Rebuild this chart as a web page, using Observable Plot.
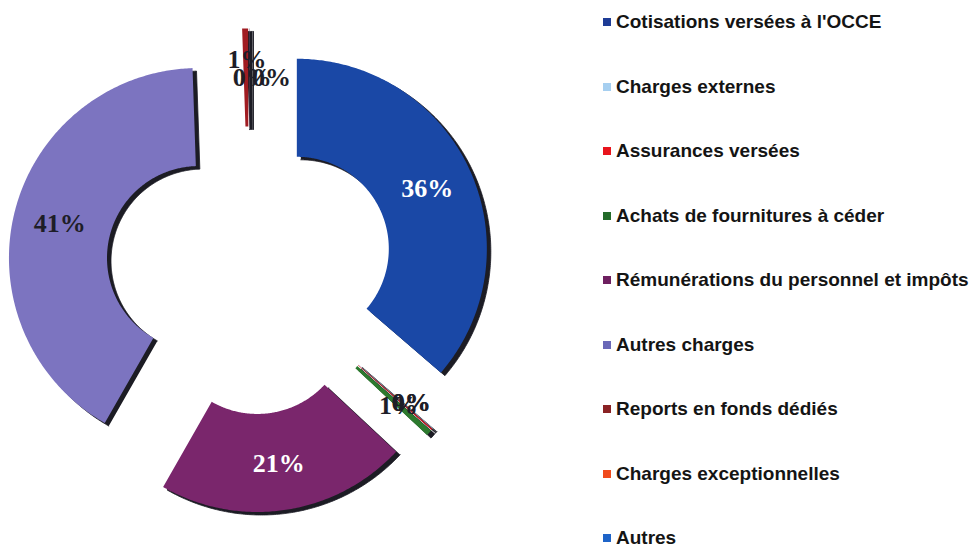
<!DOCTYPE html>
<html><head><meta charset="utf-8">
<script src="https://cdn.jsdelivr.net/npm/d3@7"></script>
<script src="https://cdn.jsdelivr.net/npm/@observablehq/plot@0.6"></script>
<style>
html,body{margin:0;padding:0;background:#fff;overflow:hidden}
#wrap{position:relative;width:976px;height:544px;overflow:hidden}
#legend{position:absolute;left:603px;top:0;font-family:"Liberation Sans",Arial,sans-serif;font-weight:bold;font-size:19px;color:#141414}
.item{position:absolute;left:0;white-space:nowrap;display:flex;align-items:center;height:22px;transform:translateY(-50%)}
.sw{width:8px;height:8px;margin-right:5px;flex:none}
</style></head><body><div id="wrap"><div id="chart"></div><div id="legend"></div></div>
<script>
// ---- data ----
const categories = [
  "Cotisations versées à l'OCCE",
  "Charges externes",
  "Assurances versées",
  "Achats de fournitures à céder",
  "Rémunérations du personnel et impôts",
  "Autres charges",
  "Reports en fonds dédiés",
  "Charges exceptionnelles",
  "Autres"
];
// percentage of total, drawn clockwise from 12 o'clock in this order
const values = [36.3, 0.05, 0.1, 0.5, 21.3, 41.2, 0.5, 0.02, 0.02];

// ---- styles ----
const sliceColors = ["#1a48a6", "#a6cff0", "#d8141c", "#2c7a2e", "#7a266c", "#7c74c0", "#a01c22", "#f04a1c", "#1e64c8"];
const swatchColors = ["#1e3c96", "#a6cff0", "#e8141c", "#236b2a", "#6e2060", "#6a68b8", "#8a2224", "#f04a1c", "#1e64c8"];
const whiteLabels = ["Cotisations versées à l'OCCE", "Rémunérations du personnel et impôts"];
// label nudges (px) mimicking the overlap-avoidance of the original labels
const labelNudge = {
  "Charges externes": [14, 4],
  "Assurances versées": [14, 4],
  "Achats de fournitures à céder": [4, 4],
  "Reports en fonds dédiés": [1, -15],
  "Charges exceptionnelles": [3, 3],
  "Autres": [22, 3]
};

// ---- geometry (in radius units) ----
const outerR = 1, innerR = 0.484, explode = 0.274, labelR = 0.755;

const slices = categories.map((c, i) => ({cat: c, value: values[i]}));
const arcs = d3.pie().sort(null).value(d => d.value)(slices);

const verts = [];
const labels = [];
for (const a of arcs) {
  const a0 = a.startAngle, a1 = a.endAngle, mid = (a0 + a1) / 2;
  const ox = explode * Math.sin(mid), oy = explode * Math.cos(mid);
  const n = Math.max(2, Math.ceil((a1 - a0) / 0.01));
  for (let i = 0; i <= n; i++) {
    const t = a0 + (a1 - a0) * i / n;
    verts.push({cat: a.data.cat, x: ox + outerR * Math.sin(t), y: oy + outerR * Math.cos(t)});
  }
  for (let i = n; i >= 0; i--) {
    const t = a0 + (a1 - a0) * i / n;
    verts.push({cat: a.data.cat, x: ox + innerR * Math.sin(t), y: oy + innerR * Math.cos(t)});
  }
  labels.push({
    cat: a.data.cat,
    x: ox + labelR * Math.sin(mid),
    y: oy + labelR * Math.cos(mid),
    text: Math.round(a.data.value) + "%"
  });
}

const labelFont = {fontFamily: "'Liberation Serif','Times New Roman',serif", fontSize: 26, fontWeight: "bold"};

const textMarks = labels.map(d => {
  const [dx, dy] = labelNudge[d.cat] || [0, 0];
  return Plot.text([d], {x: "x", y: "y", text: "text", dx, dy,
    fill: whiteLabels.includes(d.cat) ? "#ffffff" : "#1e1e28", ...labelFont});
});

const chart = Plot.plot({
  width: 976,
  height: 544,
  margin: 0,
  x: {domain: [-1.3105, 3.826], axis: null},
  y: {domain: [-1.442, 1.421], axis: null},
  color: {domain: categories, range: sliceColors},
  marks: [
    Plot.line(verts, {x: "x", y: "y", z: "cat", fill: "#1c1c24", stroke: "#1c1c24", strokeWidth: 0.8, dx: 4, dy: 3, curve: "linear"}),
    Plot.line(verts, {x: "x", y: "y", z: "cat", fill: "cat", stroke: "none", curve: "linear"}),
    ...textMarks
  ]
});
document.getElementById("chart").appendChild(chart);

// ---- legend (right side) ----
const legend = document.getElementById("legend");
categories.forEach((c, i) => {
  const item = document.createElement("div");
  item.className = "item";
  item.style.top = (22 + i * 64.5) + "px";
  const sw = document.createElement("span");
  sw.className = "sw";
  sw.style.background = swatchColors[i];
  const tx = document.createElement("span");
  tx.textContent = c;
  item.appendChild(sw);
  item.appendChild(tx);
  legend.appendChild(item);
});
</script></body></html>
